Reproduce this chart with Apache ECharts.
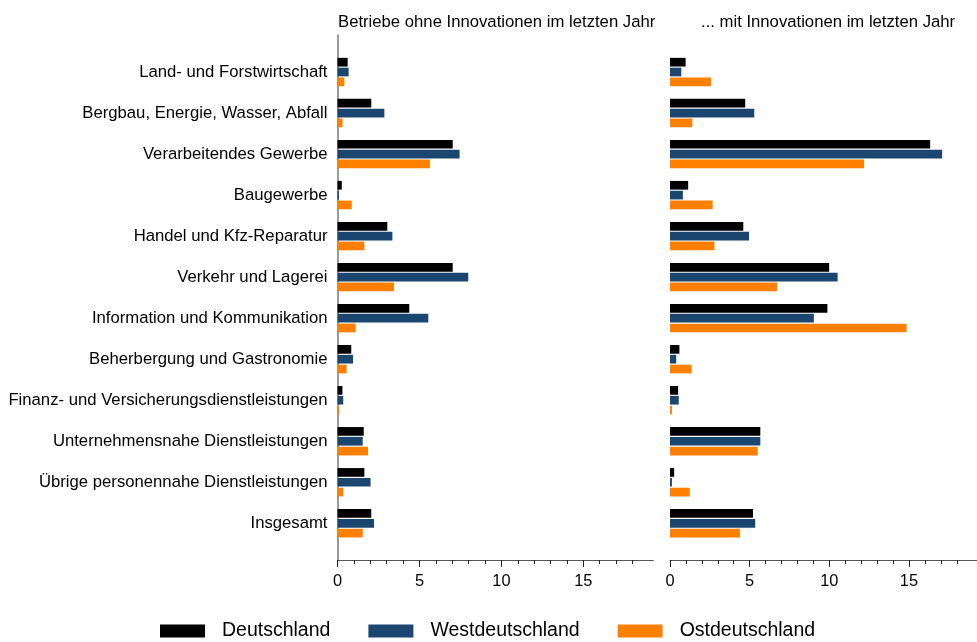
<!DOCTYPE html>
<html>
<head>
<meta charset="utf-8">
<script src="https://cdn.jsdelivr.net/npm/echarts@6/dist/echarts.min.js"></script>
<style>html,body{margin:0;padding:0;background:#fff}#c{width:977px;height:642px}</style>
</head>
<body>
<div id="c"></div>
<script>
const categories = [
  'Land- und Forstwirtschaft',
  'Bergbau, Energie, Wasser, Abfall',
  'Verarbeitendes Gewerbe',
  'Baugewerbe',
  'Handel und Kfz-Reparatur',
  'Verkehr und Lagerei',
  'Information und Kommunikation',
  'Beherbergung und Gastronomie',
  'Finanz- und Versicherungsdienstleistungen',
  'Unternehmensnahe Dienstleistungen',
  'Übrige personennahe Dienstleistungen',
  'Insgesamt'
];
const seriesNames = ['Deutschland', 'Westdeutschland', 'Ostdeutschland'];
const panelTitles = ['Betriebe ohne Innovationen im letzten Jahr', '... mit Innovationen im letzten Jahr'];
const tickLabels = [0, 5, 10, 15];
const minorTicks = [0,1,2,3,4,5,6,7,8,9,10,11,12,13,14,15,16,17,18];

const ohneD = [0.62, 2.06, 7.03, 0.26, 3.04, 7.03, 4.38, 0.84, 0.30, 1.60, 1.64, 2.06];
const ohneW = [0.68, 2.86, 7.45, 0.09, 3.35, 7.98, 5.54, 0.95, 0.35, 1.54, 2.02, 2.23];
const ohneO = [0.42, 0.31, 5.64, 0.87, 1.64, 3.45, 1.11, 0.56, 0.10, 1.86, 0.35, 1.54];
const mitD  = [0.98, 4.72, 16.33, 1.14, 4.60, 9.99, 9.88, 0.59, 0.51, 5.67, 0.26, 5.21];
const mitW  = [0.71, 5.29, 17.08, 0.81, 4.96, 10.52, 9.03, 0.39, 0.55, 5.67, 0.12, 5.35];
const mitO  = [2.58, 1.40, 12.18, 2.68, 2.79, 6.73, 14.85, 1.36, 0.12, 5.51, 1.24, 4.39];

const colors = ['#000000', '#1a4670', '#ff8000'];
const FONT = 'Liberation Sans, Arial, sans-serif';
const XMAX = 19.27;

const chart = echarts.init(document.getElementById('c'), null, {renderer: 'canvas'});

function barSeries(name, data, idx, color) {
  return {
    type: 'bar', name: name, data: data,
    xAxisIndex: idx, yAxisIndex: idx,
    barWidth: 8.7, barGap: '13%',
    itemStyle: {color: color},
    emphasis: {disabled: true},
    animation: false
  };
}

const titleStyle = {fontFamily: FONT, fontSize: 16.7, fontWeight: 'normal', color: '#000'};

const option = {
  animation: false,
  textStyle: {fontFamily: FONT},
  title: [
    {text: panelTitles[0], left: 338, top: 14, padding: 0, textStyle: titleStyle},
    {text: panelTitles[1], left: 701, top: 14, padding: 0, textStyle: titleStyle}
  ],
  legend: {
    data: seriesNames,
    left: 160, top: 621, padding: 0,
    itemWidth: 45, itemHeight: 13, itemGap: 38,
    icon: 'rect',
    selectedMode: false,
    textStyle: {fontFamily: FONT, fontSize: 19.5, color: '#000', padding: [0, 0, 0, 12]}
  },
  grid: [
    {left: 337.5, width: 315.8, top: 51.5, height: 492.3},
    {left: 670, width: 315.8, top: 51.5, height: 492.3},
    {left: 337.5, width: 315.8, top: 35, height: 525},
    {left: 670, width: 315.8, top: 35, height: 525},
    {left: 337.5, width: 315.8, top: 35, height: 525},
    {left: 670, width: 315.8, top: 35, height: 525}
  ],
  xAxis: [
    {type: 'value', gridIndex: 0, min: 0, max: XMAX, show: false},
    {type: 'value', gridIndex: 1, min: 0, max: XMAX, show: false},
    {type: 'value', gridIndex: 2, min: 0, max: XMAX,
      axisLine: {show: true, lineStyle: {color: '#555', width: 1}},
      axisTick: {show: true, customValues: tickLabels, length: 7, lineStyle: {color: '#222'}},
      axisLabel: {show: true, customValues: tickLabels, margin: 13, fontFamily: FONT, fontSize: 16.4, color: '#000'},
      splitLine: {show: false}},
    {type: 'value', gridIndex: 3, min: 0, max: XMAX,
      axisLine: {show: true, lineStyle: {color: '#555', width: 1}},
      axisTick: {show: true, customValues: tickLabels, length: 7, lineStyle: {color: '#222'}},
      axisLabel: {show: true, customValues: tickLabels, margin: 13, fontFamily: FONT, fontSize: 16.4, color: '#000'},
      splitLine: {show: false}},
    {type: 'value', gridIndex: 4, min: 0, max: XMAX,
      axisLine: {show: false},
      axisTick: {show: true, customValues: minorTicks, length: 4, lineStyle: {color: '#222'}},
      axisLabel: {show: false},
      splitLine: {show: false}},
    {type: 'value', gridIndex: 5, min: 0, max: XMAX,
      axisLine: {show: false},
      axisTick: {show: true, customValues: minorTicks, length: 4, lineStyle: {color: '#222'}},
      axisLabel: {show: false},
      splitLine: {show: false}}
  ],
  yAxis: [
    {type: 'category', gridIndex: 0, data: categories, inverse: true,
      axisLine: {show: false}, axisTick: {show: false},
      axisLabel: {margin: 10, fontFamily: FONT, fontSize: 16.7, color: '#000'}},
    {type: 'category', gridIndex: 1, data: categories, inverse: true,
      axisLine: {show: false}, axisTick: {show: false}, axisLabel: {show: false}},
    {type: 'value', gridIndex: 2, min: 0, max: 1,
      axisLine: {show: true, lineStyle: {color: '#7a7a7a', width: 1.5}},
      axisTick: {show: false}, axisLabel: {show: false}, splitLine: {show: false}},
    {type: 'value', gridIndex: 3, min: 0, max: 1, show: false},
    {type: 'value', gridIndex: 4, min: 0, max: 1, show: false},
    {type: 'value', gridIndex: 5, min: 0, max: 1, show: false}
  ],
  series: [
    barSeries(seriesNames[0], ohneD, 0, colors[0]),
    barSeries(seriesNames[1], ohneW, 0, colors[1]),
    barSeries(seriesNames[2], ohneO, 0, colors[2]),
    barSeries(seriesNames[0], mitD, 1, colors[0]),
    barSeries(seriesNames[1], mitW, 1, colors[1]),
    barSeries(seriesNames[2], mitO, 1, colors[2])
  ]
};
chart.setOption(option);
</script>
</body>
</html>
